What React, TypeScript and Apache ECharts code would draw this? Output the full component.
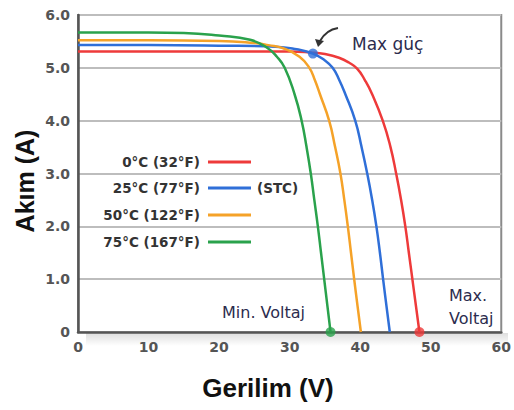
import React, { useEffect, useRef } from "react";
import * as echarts from "echarts";

// Voltage (V) / current (A)
const redV = [0, 10, 20, 30, 33, 35, 37, 38.4, 39.6, 40.7, 41.7, 43.2, 44.3, 45.1, 45.8, 46.4, 46.9, 47.4, 47.9, 48.4];
const redI = [5.31, 5.31, 5.31, 5.31, 5.29, 5.26, 5.19, 5.1, 4.98, 4.76, 4.5, 4.0, 3.5, 3.0, 2.5, 2.0, 1.5, 1.0, 0.5, 0];

const blueV = [0, 10, 20, 28, 31, 33.3, 35, 36.1, 37.0, 37.9, 39.3, 40.2, 41.0, 41.7, 42.3, 42.8, 43.25, 43.72, 44.2];
const blueI = [5.43, 5.43, 5.42, 5.4, 5.35, 5.27, 5.14, 5.0, 4.78, 4.5, 4.0, 3.5, 3.0, 2.5, 2.0, 1.5, 1.0, 0.5, 0];

const orangeV = [0, 10, 20, 25, 27, 29.1, 31.4, 32.8, 33.6, 34.3, 35.6, 36.45, 37.2, 37.75, 38.25, 38.7, 39.15, 39.62, 40.1];
const orangeI = [5.52, 5.52, 5.51, 5.47, 5.43, 5.37, 5.21, 5.0, 4.76, 4.5, 4.0, 3.5, 3.0, 2.5, 2.0, 1.5, 1.0, 0.5, 0];

const greenV = [0, 10, 15, 20, 24.4, 26.8, 28.2, 29.3, 30.7, 31.7, 32.4, 33.0, 33.5, 34.0, 34.45, 34.9, 35.35, 35.8];
const greenI = [5.67, 5.67, 5.66, 5.61, 5.53, 5.38, 5.21, 5.0, 4.5, 4.0, 3.5, 3.0, 2.5, 2.0, 1.5, 1.0, 0.5, 0];

// marked points: max power (blue), min voltage (green), max voltage (red)
const markV = [33.3, 35.8, 48.4];
const markI = [5.27, 0, 0];

const legendLabels = ["0°C (32°F)", "25°C (77°F)", "50°C (122°F)", "75°C (167°F)"];
const colors = ["#ee3a3a", "#2f6fd8", "#f5a228", "#2aa24c"];

const xTicks = [0, 10, 20, 30, 40, 50, 60];
const yTicks = [0, 1, 2, 3, 4, 5, 6];

const pairs = (v: number[], i: number[]) => v.map((x, k) => [x, i[k]]);

export default function App() {
  const ref = useRef<HTMLDivElement>(null);
  useEffect(() => {
    if (!ref.current) return;
    const chart = echarts.init(ref.current, null, { renderer: "svg" });
    const seriesData = [
      pairs(redV, redI),
      pairs(blueV, blueI),
      pairs(orangeV, orangeI),
      pairs(greenV, greenI),
    ];
    const tickFont = {
      color: "#555",
      fontWeight: "bold" as const,
      fontFamily: "DejaVu Sans",
      fontSize: 14,
    };
    const annoColor = "#2c2c4e";
    const legendY = [162, 188, 215, 242];
    const graphic: any[] = [
      {
        type: "rect",
        z: -10,
        shape: { x: 86, y: 333, width: 422, height: 13 },
        style: {
          fill: new echarts.graphic.LinearGradient(0, 0, 0, 1, [
            { offset: 0, color: "rgba(0,0,0,0.13)" },
            { offset: 1, color: "rgba(0,0,0,0)" },
          ]),
        },
      },
      {
        type: "text",
        x: 25,
        y: 181,
        rotation: Math.PI / 2,
        style: {
          text: "Akım (A)",
          font: "bold 25px 'Liberation Sans', Arial, sans-serif",
          fill: "#111",
          align: "center",
          verticalAlign: "middle",
        },
      },
      {
        type: "text",
        x: 268,
        y: 388,
        style: {
          text: "Gerilim (V)",
          font: "bold 26px 'Liberation Sans', Arial, sans-serif",
          fill: "#111",
          align: "center",
          verticalAlign: "middle",
        },
      },
      {
        type: "text",
        x: 352,
        y: 44,
        style: { text: "Max güç", font: "17px 'DejaVu Sans'", fill: annoColor, verticalAlign: "middle" },
      },
      {
        type: "text",
        x: 222,
        y: 312,
        style: { text: "Min. Voltaj", font: "16px 'DejaVu Sans'", fill: annoColor, verticalAlign: "middle" },
      },
      {
        type: "text",
        x: 449,
        y: 295,
        style: { text: "Max.", font: "16px 'DejaVu Sans'", fill: annoColor, verticalAlign: "middle" },
      },
      {
        type: "text",
        x: 449,
        y: 318,
        style: { text: "Voltaj", font: "16px 'DejaVu Sans'", fill: annoColor, verticalAlign: "middle" },
      },
      {
        type: "bezierCurve",
        shape: { x1: 338, y1: 28, cpx1: 326, cpy1: 30, x2: 320, y2: 41 },
        style: { stroke: "#333", lineWidth: 2, fill: "none" },
      },
      {
        type: "polygon",
        shape: { points: [[315, 39], [324, 41], [318, 47]] },
        style: { fill: "#333" },
      },
      {
        type: "text",
        x: 257,
        y: legendY[1],
        style: {
          text: "(STC)",
          font: "bold 13.5px 'DejaVu Sans'",
          fill: "#333",
          verticalAlign: "middle",
        },
      },
    ];
    legendLabels.forEach((lab, k) => {
      graphic.push({
        type: "text",
        x: 200,
        y: legendY[k],
        style: {
          text: lab,
          font: "bold 13.5px 'DejaVu Sans'",
          fill: "#333",
          align: "right",
          verticalAlign: "middle",
        },
      });
      graphic.push({
        type: "line",
        shape: { x1: 208, y1: legendY[k], x2: 251, y2: legendY[k] },
        style: { stroke: colors[k], lineWidth: 3 },
      });
    });

    chart.setOption({
      animation: false,
      backgroundColor: "#fff",
      grid: {
        left: 78,
        right: 6,
        top: 15,
        bottom: 78,
        show: true,
        borderColor: "#8a8a8a",
        borderWidth: 2,
      },
      xAxis: {
        type: "value",
        min: xTicks[0],
        max: xTicks[xTicks.length - 1],
        interval: 10,
        axisLine: { show: true, lineStyle: { color: "#555", width: 2.5 } },
        axisTick: { show: false },
        splitLine: { show: false },
        axisLabel: { ...tickFont, margin: 8, showMinLabel: true, showMaxLabel: true },
      },
      yAxis: {
        type: "value",
        min: yTicks[0],
        max: yTicks[yTicks.length - 1],
        interval: 1,
        axisLine: { show: true, lineStyle: { color: "#555", width: 2.5 } },
        axisTick: { show: false },
        splitLine: { show: true, lineStyle: { color: "#bdbdbd", width: 2 } },
        axisLabel: {
          ...tickFont,
          margin: 8,
          formatter: (v: number) => (v === 0 ? "0" : v.toFixed(1)),
        },
      },
      series: [
        ...seriesData.map((d, k) => ({
          type: "line",
          data: d,
          smooth: 0.5,
          showSymbol: false,
          symbol: "none",
          lineStyle: { color: colors[k], width: 2.5 },
          z: 2 + k,
        })),
        {
          type: "scatter",
          clip: false,
          symbolSize: 10,
          z: 10,
          data: markV.map((v, k) => ({
            value: [v, markI[k]],
            itemStyle: { color: [colors[1], colors[3], colors[0]][k] },
          })),
        },
      ],
      graphic,
    });
    return () => chart.dispose();
  }, []);
  return <div ref={ref} style={{ width: 514, height: 410, position: "fixed", left: 0, top: 0 }} />;
}
